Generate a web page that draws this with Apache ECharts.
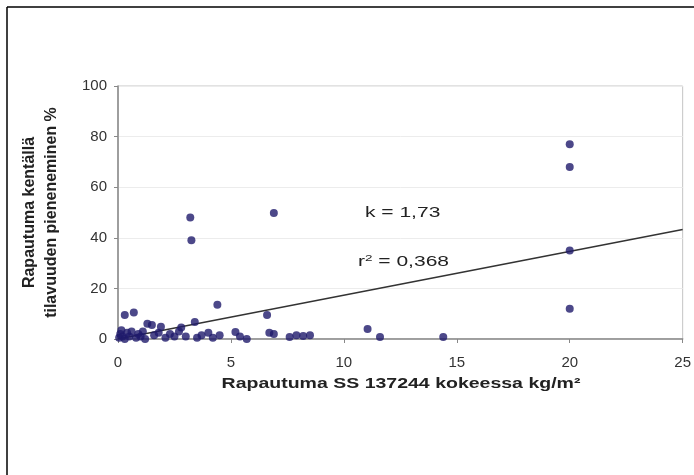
<!DOCTYPE html>
<html><head><meta charset="utf-8">
<script src="https://cdn.jsdelivr.net/npm/echarts@6/dist/echarts.min.js"></script>
<style>html,body{margin:0;padding:0;background:#fff}#c{width:694px;height:475px}</style>
</head><body><div id="c"></div>
<script>
const xTicks = [0, 5, 10, 15, 20, 25];
const yTicks = [0, 20, 40, 60, 80, 100];
const points = [
 [0.05,0.5],[0.1,2],[0.15,3.5],[0.2,1],[0.3,0],[0.3,9.5],[0.4,2.5],[0.5,1],[0.6,3],[0.7,10.5],
 [0.8,0.5],[0.9,2],[1.0,1],[1.1,3],[1.2,0],[1.3,6],[1.5,5.5],[1.6,1.5],[1.8,2.5],[1.9,4.8],
 [2.1,0.5],[2.3,2],[2.5,1],[2.7,3],[2.8,4.5],[3.0,1],[3.2,48],[3.25,39],[3.4,6.7],[3.5,0.5],
 [3.7,1.5],[4.0,2.5],[4.2,0.5],[4.4,13.5],[4.5,1.5],[5.2,2.8],[5.4,1],[5.7,0],[6.6,9.5],[6.7,2.5],
 [6.9,2],[6.9,49.8],[7.6,0.8],[7.9,1.5],[8.2,1.2],[8.5,1.5],[11.05,4],[11.6,0.8],[14.4,0.8],
 [20,77],[20,68],[20,35],[20,12]
];
const slopeK = 1.73;
const trendX = [0, 25];
const trend = trendX.map(x => [x, slopeK * x]);
const xTitle = 'Rapautuma SS 137244 kokeessa kg/m²';
const yTitle = 'Rapautuma kentällä\ntilavuuden pieneneminen %';

const chart = echarts.init(document.getElementById('c'));
const font = 'Liberation Sans, Arial, sans-serif';
chart.setOption({
  animation: false,
  grid: {left: 118, right: 10, top: 86, bottom: 136, show: true, borderColor: '#c4c4c4', borderWidth: 1},
  xAxis: {
    type: 'value', min: 0, max: 25, interval: 5,
    axisLine: {lineStyle: {color: '#888', width: 1.5}},
    axisTick: {show: true, length: 4, lineStyle: {color: '#888'}},
    splitLine: {show: false},
    axisLabel: {color: '#333', fontSize: 15, fontFamily: font, margin: 16,
      formatter: v => xTicks.includes(v) ? String(v) : ''}
  },
  yAxis: {
    type: 'value', min: 0, max: 100, interval: 20,
    axisLine: {show: true, lineStyle: {color: '#888', width: 1.5}},
    axisTick: {show: true, length: 4, lineStyle: {color: '#888'}},
    splitLine: {show: true, lineStyle: {color: '#ececec'}},
    axisLabel: {color: '#333', fontSize: 15, fontFamily: font, margin: 11,
      formatter: v => yTicks.includes(v) ? String(v) : ''},
    name: yTitle, nameLocation: 'middle', nameGap: 55,
    nameTextStyle: {color: '#222', fontSize: 16, fontWeight: 'bold', fontFamily: font, lineHeight: 22}
  },
  series: [
    {type: 'line', data: trend, showSymbol: false, symbol: 'none', z: 1,
     lineStyle: {color: '#333', width: 1.5}, silent: true},
    {type: 'scatter', data: points, symbol: 'circle', symbolSize: 8, z: 3,
     itemStyle: {color: '#1f1a6c'}}
  ],
  graphic: [
    {type: 'line', shape: {x1: 7, y1: 7, x2: 7, y2: 475}, style: {stroke: '#000', lineWidth: 1.5}},
    {type: 'line', shape: {x1: 7, y1: 7, x2: 694, y2: 7}, style: {stroke: '#000', lineWidth: 1.5}},
    {type: 'text', x: 401, y: 384, scaleX: 1.3,
     style: {text: xTitle, fill: '#222', font: 'bold 15px ' + font, textAlign: 'center', textVerticalAlign: 'middle'}},
    {type: 'text', x: 365, y: 213, scaleX: 1.5,
     style: {text: 'k = 1,73', fill: '#222', font: '14px ' + font, textAlign: 'left', textVerticalAlign: 'middle'}},
    {type: 'text', x: 358, y: 262, scaleX: 1.5,
     style: {rich: {a: {fontSize: 14, fontFamily: font, fill: '#222'}, s: {fontSize: 9, fontFamily: font, fill: '#222', verticalAlign: 'top', padding: [0,0,7,0]}},
       text: '{a|r}{s|2}{a| = 0,368}', textAlign: 'left', textVerticalAlign: 'middle'}}
  ]
});
</script></body></html>
